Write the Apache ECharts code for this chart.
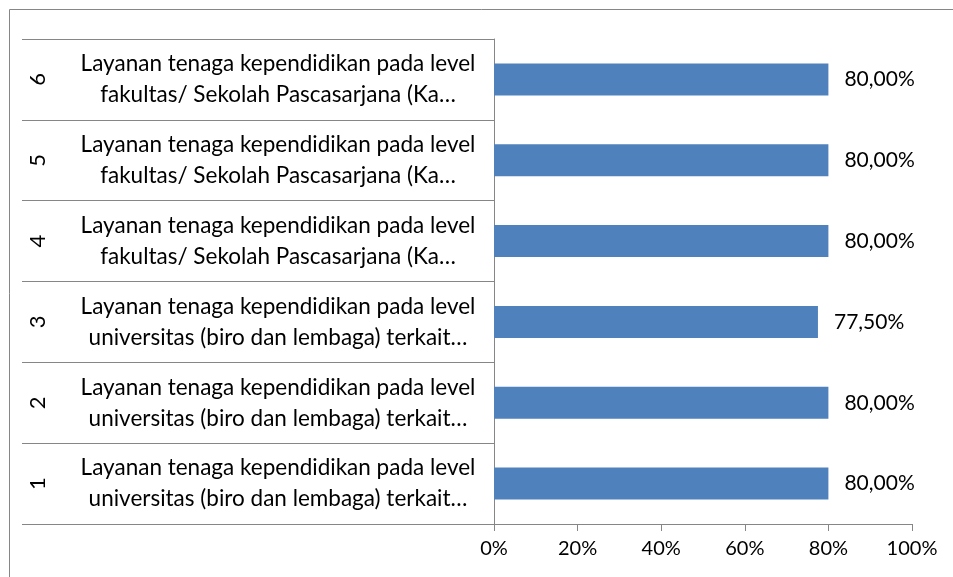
<!DOCTYPE html>
<html>
<head>
<meta charset="utf-8">
<script src="https://cdn.jsdelivr.net/npm/echarts@6/dist/echarts.min.js"></script>
<style>
  html, body { margin: 0; padding: 0; background: #fff; }
  #chart { width: 953px; height: 577px; }
</style>
</head>
<body>
<div id="chart"></div>
<script>
// rows from bottom (1) to top (6)
var rowNumbers = ['1', '2', '3', '4', '5', '6'];
var rowLabels = [
  'Layanan tenaga kependidikan pada level\nuniversitas (biro dan lembaga) terkait…',
  'Layanan tenaga kependidikan pada level\nuniversitas (biro dan lembaga) terkait…',
  'Layanan tenaga kependidikan pada level\nuniversitas (biro dan lembaga) terkait…',
  'Layanan tenaga kependidikan pada level\nfakultas/ Sekolah Pascasarjana (Ka…',
  'Layanan tenaga kependidikan pada level\nfakultas/ Sekolah Pascasarjana (Ka…',
  'Layanan tenaga kependidikan pada level\nfakultas/ Sekolah Pascasarjana (Ka…'
];
var percentValues = [80, 80, 77.5, 80, 80, 80];

var gray = '#868686';
var font = 'Lato';

var chart = echarts.init(document.getElementById('chart'));
var option = {
  animation: false,
  graphic: [{
    type: 'rect',
    shape: { x: 9.5, y: 9.5, width: 1000, height: 1000 },
    style: { fill: 'none', stroke: gray, lineWidth: 1 },
    silent: true
  }],
  grid: { left: 494, right: 41, top: 39, bottom: 53 },
  xAxis: {
    type: 'value',
    min: 0,
    max: 100,
    interval: 20,
    axisLine: { show: true, lineStyle: { color: gray } },
    axisTick: { show: true, length: 7, lineStyle: { color: gray } },
    splitLine: { show: false },
    axisLabel: {
      formatter: '{value}%',
      color: '#000',
      fontFamily: font,
      fontSize: 20,
      margin: 15
    }
  },
  yAxis: [{
    type: 'category',
    data: rowLabels,
    axisLine: { show: true, lineStyle: { color: gray } },
    axisTick: { show: true, length: 472, lineStyle: { color: gray } },
    axisLabel: {
      color: '#000',
      fontFamily: font,
      fontSize: 22.5,
      lineHeight: 31,
      align: 'center',
      padding: [6, 0, 0, 0],
      margin: 216
    }
  }, {
    type: 'category',
    data: rowNumbers,
    position: 'left',
    axisLine: { show: false },
    axisTick: { show: false },
    axisLabel: {
      color: '#000',
      fontFamily: font,
      fontSize: 22,
      rotate: 90,
      margin: 445
    }
  }],
  series: [{
    type: 'bar',
    yAxisIndex: 0,
    data: percentValues,
    barWidth: 32,
    itemStyle: { color: '#4f81bd' },
    label: {
      show: true,
      position: 'right',
      distance: 16,
      color: '#000',
      fontFamily: font,
      fontSize: 21,
      formatter: function (p) {
        return p.value.toFixed(2).replace('.', ',') + '%';
      }
    }
  }]
};
chart.setOption(option);
</script>
</body>
</html>
